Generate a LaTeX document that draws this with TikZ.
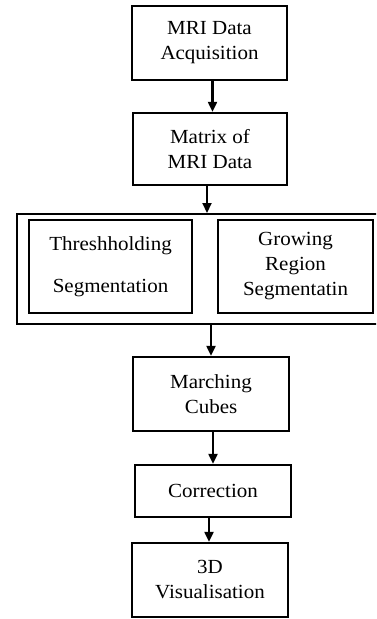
\documentclass[tikz,border=0pt]{standalone}
\usepackage{fontspec}
\setmainfont[FakeStretch=1.05]{Liberation Serif}
\usetikzlibrary{arrows.meta}
\begin{document}
\begin{tikzpicture}[x=1pt,y=-1pt,
  box/.style={draw, line width=2.4pt, align=center, inner sep=0pt,
    font=\fontsize{20}{25}\selectfont},
  arr/.style={line width=2.2pt, -{Triangle[length=10pt,width=9pt]}}]
\useasboundingbox (0,0) rectangle (376,619);
\clip (0,0) rectangle (376,619);
% main column of steps
\node[box, minimum width=155pt, minimum height=74pt] (acq) at (209.5,43) {MRI Data\\Acquisition};
\node[box, minimum width=154pt, minimum height=72pt] (mat) at (210,149) {Matrix of\\MRI Data};
% segmentation group
\node[box, anchor=north west, minimum width=372pt, minimum height=110pt] (seg) at (16,213) {};
\node[box, minimum width=163pt, minimum height=93pt] (thr) at (110.5,266.5) {Threshholding\\[17pt]Segmentation};
\node[box, minimum width=155pt, minimum height=93pt] (grow) at (295.5,266.5) {Growing\\Region\\Segmentatin};
\node[box, minimum width=156pt, minimum height=74pt] (march) at (211,394) {Marching\\Cubes};
\node[box, minimum width=156pt, minimum height=52pt] (corr) at (213,491) {Correction};
\node[box, minimum width=156pt, minimum height=74pt] (vis) at (210,580) {3D\\Visualisation};
% connectors
\draw[arr] ([xshift=3pt]acq.south) -- ([xshift=3pt]acq.south |- mat.north);
\draw[arr] ([xshift=-3pt]mat.south) -- ([xshift=-3pt]mat.south |- seg.north);
\draw[arr] (march.north |- seg.south) -- (march.north);
\draw[arr] ([xshift=2pt]march.south) -- ([xshift=2pt]march.south |- corr.north);
\draw[arr] ([xshift=-4pt]corr.south) -- ([xshift=-4pt]corr.south |- vis.north);
\end{tikzpicture}
\end{document}
